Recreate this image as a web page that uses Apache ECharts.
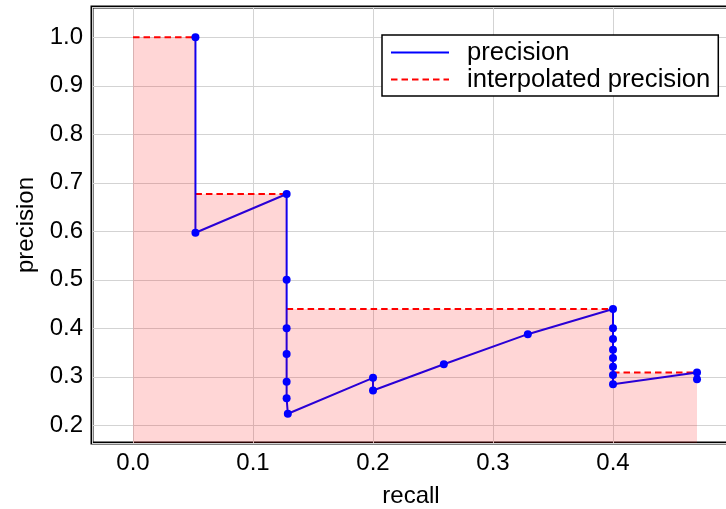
<!DOCTYPE html>
<html>
<head>
<meta charset="utf-8">
<script src="https://cdn.jsdelivr.net/npm/echarts@6/dist/echarts.min.js"></script>
<style>
  html, body { margin: 0; padding: 0; background: #fff; overflow: hidden; }
  #chart { width: 760px; height: 509px; }
</style>
</head>
<body>
<div id="chart"></div>
<script>
// precision / recall pairs, in ranking order
const recall = [0.052, 0.052, 0.128, 0.128, 0.128, 0.128, 0.128, 0.128, 0.129,
    0.2, 0.2, 0.259, 0.329, 0.4, 0.4, 0.4, 0.4, 0.4, 0.4, 0.4, 0.4, 0.47, 0.47];
const precision = [1.0, 0.597, 0.677, 0.5, 0.4, 0.347, 0.29, 0.256, 0.224,
    0.298, 0.272, 0.326, 0.388, 0.44, 0.4, 0.378, 0.356, 0.339, 0.321, 0.304, 0.285, 0.309, 0.295];

// interpolated precision (step, value holds until next recall)
const interpRecall = [0, 0.052, 0.128, 0.4, 0.47];
const interpPrecision = [1.0, 0.677, 0.44, 0.309, 0.309];

const FONT = "'Liberation Sans', Arial, sans-serif";

const pts = recall.map((r, i) => [r, precision[i]]);
const interpPts = interpRecall.map((r, i) => [r, interpPrecision[i]]);

// dashed line: only the horizontal parts of the step, broken between them
const interpSegs = [];
for (let i = 0; i < interpRecall.length - 1; i++) {
    interpSegs.push([interpRecall[i], interpPrecision[i]]);
    interpSegs.push([interpRecall[i + 1], interpPrecision[i]]);
    interpSegs.push([interpRecall[i + 1], '-']);
}

const isTick = (v) => Math.abs(v * 10 - Math.round(v * 10)) < 1e-6;

// chart div is wider than the window so the right frame edge falls outside the picture
const chart = echarts.init(document.getElementById('chart'));
chart.setOption({
    animation: false,
    grid: {
        left: 92,
        top: 7,
        right: 30,
        bottom: 66,
        outerBoundsMode: 'none',
        containLabel: false,
        show: true,
        borderColor: '#000',
        borderWidth: 3,
        backgroundColor: 'transparent',
    },
    legend: {
        data: ['precision', 'interpolated precision'],
        orient: 'vertical',
        left: 382,
        top: 35,
        itemWidth: 58,
        itemHeight: 10,
        itemGap: 0,
        padding: [4, 8, 3, 8],
        backgroundColor: '#fff',
        borderColor: '#000',
        borderWidth: 1.5,
        borderRadius: 0,
        itemStyle: { opacity: 0 },
        textStyle: {
            fontFamily: FONT,
            fontSize: 25.6,
            color: '#000',
            lineHeight: 27,
            padding: [0, 0, 0, 13],
        },
    },
    xAxis: {
        type: 'value',
        min: -0.0342,
        max: 0.4975,
        splitNumber: 5,
        name: 'recall',
        nameLocation: 'middle',
        nameGap: 41,
        nameTextStyle: { fontFamily: FONT, fontSize: 24, color: '#000' },
        axisLine: { show: false },
        axisTick: { show: false },
        axisLabel: {
            fontFamily: FONT,
            fontSize: 24,
            color: '#000',
            margin: 8,
            showMinLabel: false,
            showMaxLabel: false,
            formatter: (v) => (isTick(v) ? v.toFixed(1) : ''),
        },
        splitLine: { show: true, lineStyle: { color: '#d3d3d3', width: 1 } },
    },
    yAxis: {
        type: 'value',
        min: 0.1637,
        max: 1.0624,
        splitNumber: 9,
        name: 'precision',
        nameLocation: 'middle',
        nameGap: 51,
        nameTextStyle: { fontFamily: FONT, fontSize: 24, color: '#000' },
        axisLine: { show: false },
        axisTick: { show: false },
        axisLabel: {
            fontFamily: FONT,
            fontSize: 24,
            color: '#000',
            margin: 9,
            showMinLabel: false,
            showMaxLabel: false,
            formatter: (v) => (isTick(v) ? v.toFixed(1) : ''),
        },
        splitLine: { show: true, lineStyle: { color: '#d3d3d3', width: 1 } },
    },
    series: [
        {
            name: 'interpolated precision',
            type: 'line',
            data: interpSegs,
            connectNulls: false,
            symbol: 'none',
            z: 1,
            lineStyle: { color: '#ff0000', width: 2, type: [6.5, 4] },
            itemStyle: { color: '#ff0000' },
        },
        {
            name: 'precision',
            type: 'line',
            data: pts,
            symbol: 'none',
            z: 2,
            lineStyle: { color: '#0000ff', width: 2 },
            itemStyle: { color: '#0000ff' },
        },
        {
            name: 'fill',
            type: 'line',
            step: 'end',
            data: interpPts,
            symbol: 'none',
            z: 3,
            lineStyle: { width: 0 },
            areaStyle: { color: 'rgba(255,0,0,0.16)', opacity: 1, origin: 'start' },
        },
        {
            name: 'points',
            type: 'scatter',
            data: pts,
            symbol: 'circle',
            symbolSize: 8,
            z: 4,
            itemStyle: { color: '#0000ff', opacity: 1 },
        },
    ],
});
</script>
</body>
</html>
